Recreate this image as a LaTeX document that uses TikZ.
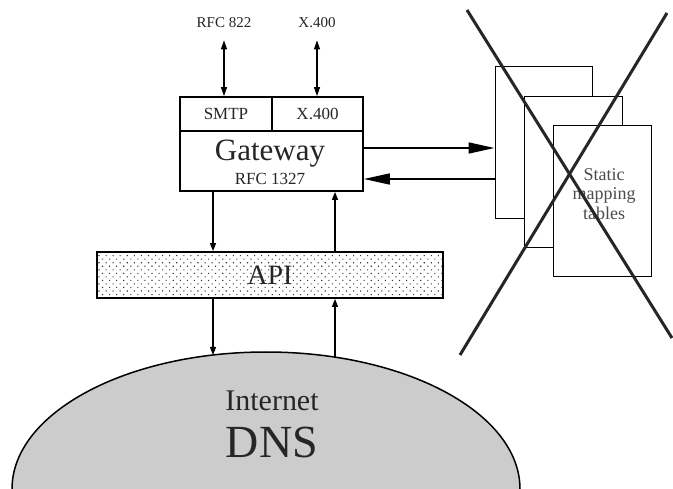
\documentclass[tikz,border=0pt]{standalone}
\usepackage{fontspec}
\setmainfont{Liberation Serif}
\usepackage{tikz}
\usetikzlibrary{arrows.meta,patterns.meta,calc}

\newcommand{\txtsize}[1]{\fontsize{#1}{#1}\selectfont}

\begin{document}
\begin{tikzpicture}
	[x=1pt,y=-1pt,every node/.style={inner sep=0pt, text=black!85},
	 dblarrow/.style={line width=1.2pt, {Triangle[length=9pt,width=6pt]}-{Triangle[length=9pt,width=6pt]}},
	 flowarrow/.style={line width=1.3pt, -{Triangle[length=8pt,width=6pt]}},
	 bigarrow/.style={line width=1.6pt, -{Triangle[length=26pt,width=11pt]}}]
	\tikzstyle{cell} = [draw, line width=1.8pt, minimum height=34pt];
	\tikzstyle{sheet} = [draw, fill=white, line width=1pt, minimum width=98pt, minimum height=151pt];
	\tikzstyle{xline} = [line width=3pt, black!85];
	
	\useasboundingbox[fill=white] (0,0) rectangle (673,489);
	
	% internet dns
	\fill[black!20] (12,489) arc[start angle=180,end angle=0,x radius=254pt,y radius=137pt] -- cycle;
	\draw[line width=1.5pt] (12,489) arc[start angle=180,end angle=0,x radius=254pt,y radius=137pt];
	\node[anchor=base, font=\txtsize{30}] (inet) at (272,411) {Internet};
	\node[anchor=base, font=\txtsize{46}] (dns) at (272,457) {DNS};
	\coordinate (domeL) at (213,355);
	\coordinate (domeR) at (335,357);
	
	% gateway
	\node[anchor=base, font=\txtsize{15}] (rfc822) at (224,28) {RFC 822};
	\node[anchor=base, font=\txtsize{15}] (x400top) at (317,28) {X.400};
	\node[cell, minimum width=92pt, font=\txtsize{17}] (smtp) at (226,114) {SMTP};
	\node[cell, minimum width=91pt, font=\txtsize{17}] (x400) at (317.5,114) {X.400};
	\node[cell, minimum width=183pt, minimum height=60pt] (gw) at (271.5,161) {};
	\node[anchor=base, font=\txtsize{31}] (gwname) at (270,161) {Gateway};
	\node[anchor=base, font=\txtsize{17}] (gwrfc) at (270,185) {RFC 1327};
	
	\draw[dblarrow] ([yshift=-12pt]rfc822.south) -- (rfc822.south |- smtp.north);
	\draw[dblarrow] ([yshift=-12pt]x400top.south) -- (x400top.south |- x400.north);
	
	% api
	\node[draw, line width=1.8pt, pattern={Dots[distance=5pt, angle=45, radius=0.75pt]}, pattern color=black!80,
	      minimum width=346pt, minimum height=46pt, font=\txtsize{28}] (api) at (270,275) {API};
	
	\coordinate (lx) at (213,0);
	\coordinate (rx) at (335,0);
	\draw[flowarrow] (gw.south -| lx) -- (api.north -| lx);
	\draw[flowarrow] (api.north -| rx) -- (gw.south -| rx);
	\draw[flowarrow] (api.south -| lx) -- (domeL);
	\draw[flowarrow] (domeR) -- (api.south -| rx);
	
	% mapping tables
	\node[sheet, minimum width=97pt, minimum height=152pt] (tab1) at (543.5,143) {};
	\node[sheet] (tab2) at (573,172.5) {};
	\node[sheet] (tab3) at (602,201.5) {};
	\node[align=center, font=\fontsize{18}{19.5}\selectfont, text=black!70] (tabtext) at (604,194) {Static\\mapping\\tables};
	
	\draw[bigarrow] ([yshift=13pt]gw.east) -- ([yshift=13pt]gw.east -| tab1.west);
	\draw[bigarrow] ([yshift=-18pt]gw.east -| tab1.west) -- ([yshift=-18pt]gw.east);
	
	% crossed out
	\coordinate (xa1) at (467,10);
	\coordinate (xa2) at (672,338);
	\coordinate (xb1) at (667,13);
	\coordinate (xb2) at (460,355);
	\draw[xline] (xa1) -- (xa2);
	\draw[xline] (xb1) -- (xb2);
\end{tikzpicture}
\end{document}
